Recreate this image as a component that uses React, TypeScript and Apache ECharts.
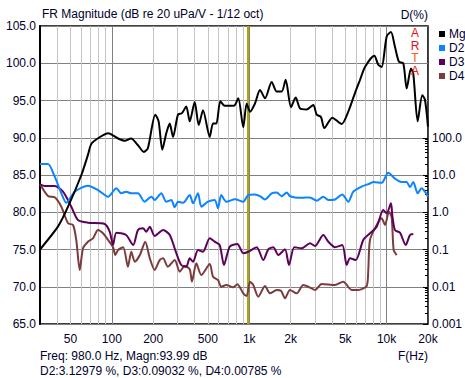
import React, { useEffect, useRef } from 'react';
import * as echarts from 'echarts';

// ---------- data ----------
const FREQ_MIN = 30;
const FREQ_MAX = 20000;

const mgData: [number, number][] = [
  [30, 75.0], [40.6, 78.1], [48, 80.75], [60, 85.0], [67, 87.7], [71, 89.2], [82, 90.1], [94, 90.6],
  [111, 89.9], [124, 89.6], [138, 89.9], [155, 89.0], [171, 88.1], [183, 88.6], [207, 93.1], [219, 92.2],
  [233, 88.4], [249, 90.6], [264, 91.9], [279, 90.1], [303, 93.1], [324, 93.3], [348, 94.2], [369, 92.2],
  [401, 94.8], [429, 91.7], [461, 93.7], [516, 90.1], [545, 91.9], [576, 91.9], [616, 94.9], [663, 94.3],
  [762, 94.3], [788, 94.4], [833, 95.3], [905, 91.4], [958, 94.6], [1013, 93.5], [1101, 94.6], [1198, 96.4],
  [1303, 95.3], [1457, 97.5], [1584, 96.2], [1723, 96.2], [1842, 97.8], [2014, 94.1], [2178, 95.4], [2342, 93.95],
  [2620, 93.8], [2926, 94.4], [3097, 93.1], [3328, 92.8], [3518, 91.3], [4024, 92.7], [4710, 91.85], [5259, 93.5],
  [5884, 96.0], [6399, 97.75], [6959, 99.5], [8133, 101.0], [8697, 99.8], [9206, 99.5], [10011, 103.6], [10755, 104.2],
  [11502, 102.2], [12301, 100.2], [13225, 100.0], [13998, 96.6], [15042, 99.3], [15636, 98.6], [16830, 92.2],
  [18174, 95.7], [19017, 95.1], [20000, 91.5],
];

const d2Data: [number, number][] = [
  [30, 19.7], [34.3, 19.7], [38.4, 9.0], [42.9, 3.23], [46.6, 1.8], [53.7, 3.56], [67, 5.16], [79.3, 3.95],
  [93.8, 2.61], [108, 4.4], [117, 3.23], [127, 3.56], [138.5, 3.23], [155, 3.23], [173, 1.92], [194, 2.61],
  [205, 2.13], [229, 3.23], [249, 1.92], [271, 2.13], [287, 1.36], [303, 1.92], [330, 1.8], [369, 2.9],
  [390, 1.74], [424, 3.23], [448, 1.41], [501, 1.92], [561, 2.13], [592, 1.28], [626, 2.9], [681, 1.92],
  [788, 2.23], [905, 1.92], [984, 2.9], [1101, 3.0], [1198, 2.7], [1303, 2.2], [1457, 3.23], [1584, 3.4],
  [1723, 2.7], [1874, 3.4], [1980, 2.7], [2153, 2.5], [2409, 2.44], [2769, 2.5], [3097, 2.03], [3460, 2.61],
  [3763, 2.13], [4209, 2.2], [4758, 3.0], [5259, 1.92], [5719, 3.56], [6582, 4.9], [7566, 5.9], [7999, 6.5],
  [9206, 6.2], [10281, 11.5], [11502, 8.0], [12875, 6.5], [13998, 6.5], [14796, 4.7], [15636, 6.5], [16830, 3.23],
  [17994, 4.4], [19017, 3.56], [20000, 2.61],
];

const d3Data: [number, number][] = [
  [30, 5.73], [32.5, 5.07], [38.4, 5.07], [44.1, 3.56], [50.7, 1.41], [56.7, 0.62], [67, 0.524], [88.7, 0.484],
  [96.5, 0.3], [102, 0.132], [108, 0.283], [127, 0.245], [143, 0.132], [155, 0.333], [169, 0.37], [178, 0.3],
  [189, 0.409], [205, 0.23], [236, 0.333], [264, 0.245], [295, 0.079], [320, 0.0384], [348, 0.0345], [369, 0.058],
  [390, 0.047], [424, 0.097], [461, 0.087], [516, 0.2], [561, 0.162], [610, 0.132], [655, 0.0384], [721, 0.119],
  [819, 0.141], [905, 0.079], [984, 0.087], [1133, 0.115], [1266, 0.052], [1376, 0.101], [1497, 0.115], [1628, 0.071],
  [1821, 0.101], [1947, 0.0384], [2128, 0.115], [2409, 0.108], [2769, 0.147], [3010, 0.124], [3460, 0.245], [3763, 0.162],
  [4209, 0.115], [4758, 0.132], [5122, 0.0384], [5412, 0.058], [5955, 0.052], [6763, 0.18], [7566, 0.272], [8465, 0.409],
  [9457, 1.15], [10011, 0.94], [10755, 1.74], [10993, 0.84], [11502, 0.333], [12512, 0.283], [13765, 0.132],
  [14796, 0.245], [15636, 0.26],
];

const d4Data: [number, number][] = [
  [30, 5.73], [34.3, 2.73], [38.4, 2.52], [42.9, 1.41], [48, 0.505], [52.2, 0.455], [55.1, 0.18], [58.4, 0.0282],
  [61.7, 0.108], [67, 0.162], [72.9, 0.2], [79.3, 0.333], [86.2, 0.272], [93.8, 0.18], [102, 0.115], [106, 0.071],
  [111, 0.097], [121, 0.115], [131, 0.0345], [138.5, 0.087], [147, 0.047], [160, 0.071], [175, 0.162], [189, 0.058],
  [205, 0.0282], [223, 0.052], [236, 0.058], [256, 0.0345], [287, 0.052], [312, 0.0254], [339, 0.036], [369, 0.0294],
  [383, 0.0137], [412, 0.0426], [448, 0.0207], [516, 0.0408], [545, 0.0186], [592, 0.0152], [626, 0.01], [681, 0.0111],
  [762, 0.00966], [819, 0.0116], [905, 0.00667], [958, 0.00565], [1013, 0.0137], [1070, 0.0111], [1164, 0.0054],
  [1303, 0.0105], [1416, 0.00667], [1584, 0.0082], [1703, 0.00783], [1821, 0.0049], [1980, 0.0082], [2215, 0.00667],
  [2474, 0.0111], [2690, 0.01], [3010, 0.0082], [3368, 0.0119], [4209, 0.0111], [4838, 0.0137], [5568, 0.0082],
  [6220, 0.0082], [7159, 0.0105], [7354, 0.0282], [7566, 0.18], [8465, 0.455], [9206, 0.69], [9728, 0.455],
  [10401, 1.035], [10885, 0.73], [11253, 0.097], [11836, 0.071],
];

const seriesNames = ['Mg', 'D2', 'D3', 'D4'];
const seriesColors = ['#000000', '#0a84ff', '#5c005c', '#7c3c3c'];

const freqTickLabels = [50, 100, 200, 500, 1000, 2000, 5000, 10000, 20000];
const minorGridFreqs = [40, 50, 60, 70, 80, 90, 200, 300, 400, 500, 600, 700, 800, 900,
  2000, 3000, 4000, 5000, 6000, 7000, 8000, 9000];
const decadeGridFreqs = [100, 1000, 10000];
const pctLabelValues = [0.001, 0.01, 0.1, 1, 10, 100];
const pctMinorDecades = [0.001, 0.01, 0.1, 1, 10];
const pctMinorMultipliers = [2, 3, 4, 5, 6, 7, 8, 9];
const cursorFreq = 980;

const titleText = 'FR Magnitude (dB re 20 uPa/V - 1/12 oct)';
const cursorLine1 = 'Freq: 980.0 Hz, Magn:93.99 dB';
const cursorLine2 = 'D2:3.12979 %, D3:0.09032 %, D4:0.00785 %';

// ---------- styling ----------
const FONT = '"Liberation Sans", Arial, sans-serif';
const TEXT_COLOR = '#00002a';

export default function App() {
  const ref = useRef<HTMLDivElement>(null);

  useEffect(() => {
    document.body.style.margin = '0';
    const chart = echarts.init(ref.current!, null, { renderer: 'svg' });
    const logMin = Math.log10(FREQ_MIN);
    const logMax = Math.log10(FREQ_MAX);
    const pctMinor: number[] = [];
    pctMinorDecades.forEach((d) => pctMinorMultipliers.forEach((m) => pctMinor.push(Math.log10(d * m))));

    const fmtFreq = (v: number) => {
      const f = Math.round(Math.pow(10, v));
      return f >= 1000 ? f / 1000 + 'k' : String(f);
    };
    const fmtPct = (v: number) => {
      const p = Math.pow(10, Math.round(v));
      return p >= 1 ? p.toFixed(1) : String(Number(p.toPrecision(1)));
    };

    const lineSeries = [mgData, d2Data, d3Data, d4Data].map((data, i) => ({
      name: seriesNames[i],
      type: 'line',
      xAxisIndex: 0,
      yAxisIndex: i === 0 ? 0 : 1,
      data,
      showSymbol: false,
      symbol: 'none',
      smooth: 0.25,
      clip: true,
      z: 10 - i,
      lineStyle: { color: seriesColors[i], width: 2 },
      itemStyle: { color: seriesColors[i] },
      markLine: i === 0 ? {
        silent: true,
        symbol: 'none',
        label: { show: false },
        lineStyle: { color: '#b4a600', width: 2, type: 'solid' },
        data: [{ xAxis: cursorFreq }],
      } : undefined,
    }));

    const letterStyle = (fill: string) => ({ fill, fontSize: 12, fontFamily: FONT, lineHeight: 12.5 });

    chart.setOption({
      animation: false,
      backgroundColor: '#ffffff',
      textStyle: { fontFamily: FONT },
      grid: { left: 40, top: 26, width: 388, height: 298, show: true, borderColor: '#000', borderWidth: 1.5 },
      legend: {
        data: seriesNames.map((n) => ({ name: n, icon: 'rect' })),
        orient: 'vertical',
        left: 434,
        top: 22,
        itemWidth: 6,
        itemHeight: 6,
        itemGap: 0,
        selectedMode: false,
        textStyle: { fontFamily: FONT, fontSize: 12, color: TEXT_COLOR, lineHeight: 14, padding: [0, 0, 0, -1] },
      },
      xAxis: [
        {
          type: 'log', logBase: 10, min: FREQ_MIN, max: FREQ_MAX,
          axisLine: { show: false }, axisTick: { show: false }, axisLabel: { show: false }, splitLine: { show: false },
        },
        {
          type: 'value', min: logMin, max: logMax, position: 'bottom',
          axisLine: { show: false },
          axisTick: { show: false, customValues: minorGridFreqs.map(Math.log10) },
          axisLabel: { show: false },
          splitLine: { show: true, lineStyle: { color: '#c4c4c4', width: 1 } },
        },
        {
          type: 'value', min: logMin, max: logMax, position: 'bottom',
          axisLine: { show: false },
          axisTick: { show: false, customValues: decadeGridFreqs.map(Math.log10) },
          axisLabel: {
            customValues: freqTickLabels.map(Math.log10), formatter: fmtFreq, margin: 9,
            color: TEXT_COLOR, fontSize: 12, fontFamily: FONT,
          },
          splitLine: { show: true, lineStyle: { color: '#808080', width: 1 } },
        },
      ],
      yAxis: [
        {
          type: 'value', min: 65, max: 105, interval: 5, position: 'left',
          axisLine: { show: true, lineStyle: { color: '#000', width: 2 } },
          axisTick: { show: false },
          axisLabel: { formatter: (v: number) => v.toFixed(1), margin: 4, color: TEXT_COLOR, fontSize: 12, fontFamily: FONT },
          splitLine: { show: true, lineStyle: { color: '#808080', width: 1 } },
        },
        {
          type: 'log', logBase: 10, min: 0.001, max: 100000, position: 'right',
          axisLine: { show: false }, axisTick: { show: false }, axisLabel: { show: false }, splitLine: { show: false },
        },
        {
          type: 'value', min: -3, max: 5, position: 'right',
          axisLine: { show: false },
          axisTick: { show: true, inside: true, length: 5, customValues: pctLabelValues.map(Math.log10), lineStyle: { color: '#000' } },
          axisLabel: {
            customValues: pctLabelValues.map(Math.log10), formatter: fmtPct, margin: 4,
            color: TEXT_COLOR, fontSize: 12, fontFamily: FONT,
          },
          splitLine: { show: false },
        },
        {
          type: 'value', min: -3, max: 5, position: 'right',
          axisLine: { show: false },
          axisTick: { show: true, inside: true, length: 3, customValues: pctMinor, lineStyle: { color: '#000' } },
          axisLabel: { show: false },
          splitLine: { show: false },
        },
      ],
      series: lineSeries,
      graphic: [
        { type: 'text', x: 42, y: 14, style: { text: titleText, font: `12px ${FONT}`, fill: TEXT_COLOR, verticalAlign: 'middle', align: 'left' } },
        { type: 'text', x: 428, y: 15, style: { text: 'D(%)', font: `12px ${FONT}`, fill: TEXT_COLOR, verticalAlign: 'middle', align: 'right' } },
        {
          type: 'text', x: 415, y: 27, z: 100,
          style: {
            text: '{a|A}\n{r|R}\n{t|T}\n{a|A}',
            align: 'center', verticalAlign: 'top', lineHeight: 12.5,
            font: `12px ${FONT}`,
            rich: { a: letterStyle('#f01010'), r: letterStyle('#e01020'), t: letterStyle('#ff5a10') },
          },
        },
        { type: 'text', x: 40, y: 356, style: { text: cursorLine1, font: `12px ${FONT}`, fill: TEXT_COLOR, verticalAlign: 'middle', align: 'left' } },
        { type: 'text', x: 40, y: 371, style: { text: cursorLine2, font: `12px ${FONT}`, fill: TEXT_COLOR, verticalAlign: 'middle', align: 'left' } },
        { type: 'text', x: 428, y: 356, style: { text: 'F(Hz)', font: `12px ${FONT}`, fill: TEXT_COLOR, verticalAlign: 'middle', align: 'right' } },
      ],
    });
    return () => chart.dispose();
  }, []);

  return <div ref={ref} style={{ width: 465, height: 378, background: '#fff' }} />;
}
